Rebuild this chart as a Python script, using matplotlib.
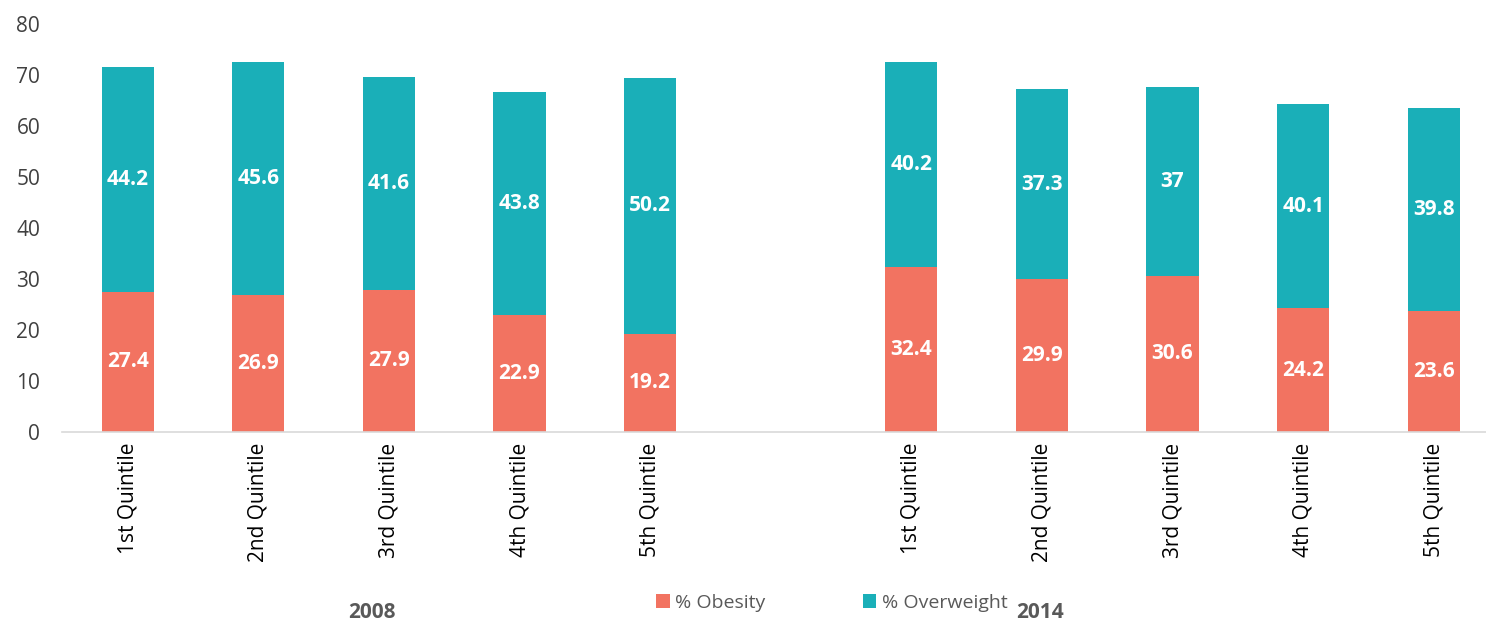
import numpy as np
import matplotlib.pyplot as plt

quintiles = ['1st Quintile', '2nd Quintile', '3rd Quintile', '4th Quintile', '5th Quintile']
years = ['2008', '2014']
obesity_2008 = [27.4, 26.9, 27.9, 22.9, 19.2]
overweight_2008 = [44.2, 45.6, 41.6, 43.8, 50.2]
obesity_2014 = [32.4, 29.9, 30.6, 24.2, 23.6]
overweight_2014 = [40.2, 37.3, 37, 40.1, 39.8]

c_obesity = '#F27361'
c_overweight = '#1AAFB8'

plt.rcParams['font.family'] = ['Open Sans', 'DejaVu Sans']

fig = plt.figure(figsize=(14.86, 6.25), dpi=100)
ax = fig.add_axes([0.042, 0.309, 0.958, 0.653])

# one empty slot between the two years
x08 = np.arange(5)
x14 = np.arange(5) + 6
width = 0.4

for x, ob, ow in [(x08, obesity_2008, overweight_2008), (x14, obesity_2014, overweight_2014)]:
    b1 = ax.bar(x, ob, width, color=c_obesity, label='% Obesity')
    b2 = ax.bar(x, ow, width, bottom=ob, color=c_overweight, label='% Overweight')
    ax.bar_label(b1, labels=[f'{v:g}' for v in ob], label_type='center',
                 color='white', fontweight='bold', fontsize=15)
    ax.bar_label(b2, labels=[f'{v:g}' for v in ow], label_type='center',
                 color='white', fontweight='bold', fontsize=15)

ax.set_xlim(-0.5, 10.4)
ax.set_ylim(0, 80)
ax.set_yticks(range(0, 81, 10))
ax.set_xticks(list(x08) + list(x14))
ax.set_xticklabels(quintiles + quintiles, rotation=90, fontsize=15)
ax.tick_params(axis='y', labelsize=15, labelcolor='#404040', length=0, pad=16)
ax.tick_params(axis='x', length=0, pad=8, labelcolor='black')

for s in ['top', 'right', 'left']:
    ax.spines[s].set_visible(False)
ax.spines['bottom'].set_color('#D9D9D9')
ax.spines['bottom'].set_linewidth(1.2)

# year labels under each group
fig.text(372 / 1486, 1 - 612 / 625, years[0], ha='center', va='center',
         fontsize=15, fontweight='bold', color='#595959')
fig.text(1040 / 1486, 1 - 612 / 625, years[1], ha='center', va='center',
         fontsize=15, fontweight='bold', color='#595959')

handles, labels = ax.get_legend_handles_labels()
fig.legend(handles[:2], labels[:2], loc='center', bbox_to_anchor=(832 / 1486, 1 - 603 / 625),
           ncol=2, frameon=False, fontsize=14, labelcolor='#595959',
           handlelength=0.7, handleheight=0.7, handletextpad=0.3, columnspacing=5)

fig.savefig('out.png', dpi=100)
